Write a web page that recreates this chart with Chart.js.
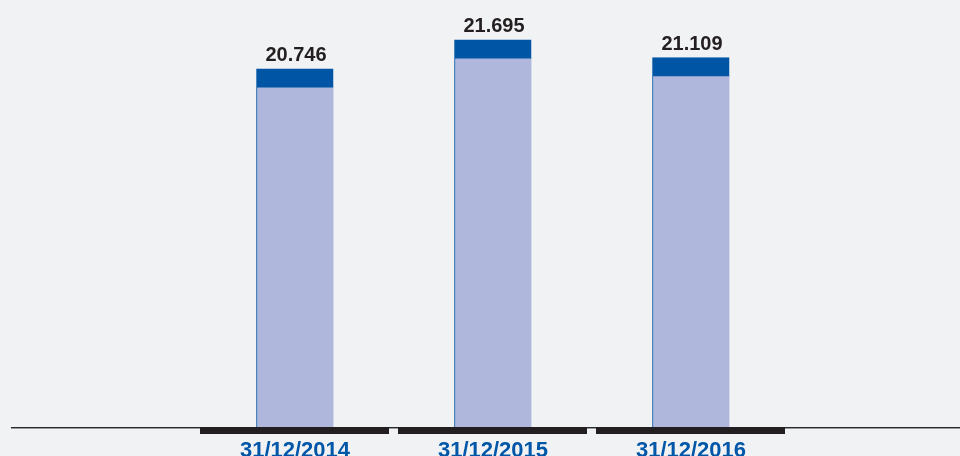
<!DOCTYPE html>
<html>
<head>
<meta charset="utf-8">
<script src="https://cdn.jsdelivr.net/npm/chart.js@4/dist/chart.umd.min.js"></script>
<style>
  html, body { margin: 0; padding: 0; background: #f1f2f4; }
  #c { display: block; background: #f1f2f4; }
</style>
</head>
<body>
<canvas id="c" width="960" height="456"></canvas>
<script>
const categories = ['31/12/2014', '31/12/2015', '31/12/2016'];
const values = [20.746, 21.695, 21.109];
const valueLabels = ['20.746', '21.695', '21.109'];

const decor = {
  id: 'decor',
  afterDatasetsDraw(chart) {
    const ctx = chart.ctx;
    const xs = chart.scales.x;
    const area = chart.chartArea;
    const base = area.bottom;
    ctx.save();
    // baseline axis
    ctx.fillStyle = '#2a2a2a';
    ctx.fillRect(11, base, chart.width - 11, 1);
    ctx.fillStyle = '#9a9a9a';
    ctx.fillRect(11, base + 1, chart.width - 11, 1);
    // category segments and labels
    const step = xs.getPixelForValue(1) - xs.getPixelForValue(0);
    const meta = chart.getDatasetMeta(0);
    categories.forEach((c, i) => {
      const cx = xs.getPixelForValue(i);
      ctx.fillStyle = '#231f20';
      ctx.fillRect(cx - step / 2 + 4, base, step - 9, 7);
      ctx.fillStyle = '#0057a8';
      ctx.font = 'bold 22px "Liberation Sans", Arial, sans-serif';
      ctx.textAlign = 'center';
      ctx.textBaseline = 'alphabetic';
      ctx.fillText(c, cx, base + 30);
      // value labels
      const bar = meta.data[i];
      ctx.fillStyle = '#231f20';
      ctx.font = 'bold 20px "Liberation Sans", Arial, sans-serif';
      ctx.fillText(valueLabels[i], bar.x + 1, bar.y - 8);
    });
    ctx.restore();
  }
};

new Chart(document.getElementById('c'), {
  type: 'bar',
  data: {
    labels: categories,
    datasets: [{
      data: values,
      backgroundColor: '#afb8dc',
      borderColor: '#0055a5',
      borderWidth: { top: 19, left: 1, right: 0, bottom: 0 },
      borderSkipped: 'start',
      barThickness: 77
    }]
  },
  options: {
    responsive: false,
    animation: false,
    layout: { padding: { left: 196, right: 170, top: 0, bottom: 29 } },
    plugins: { legend: { display: false }, tooltip: { enabled: false } },
    scales: {
      x: { display: false, offset: true },
      y: { display: false, min: 9, max: 23 }
    }
  },
  plugins: [decor]
});
</script>
</body>
</html>
